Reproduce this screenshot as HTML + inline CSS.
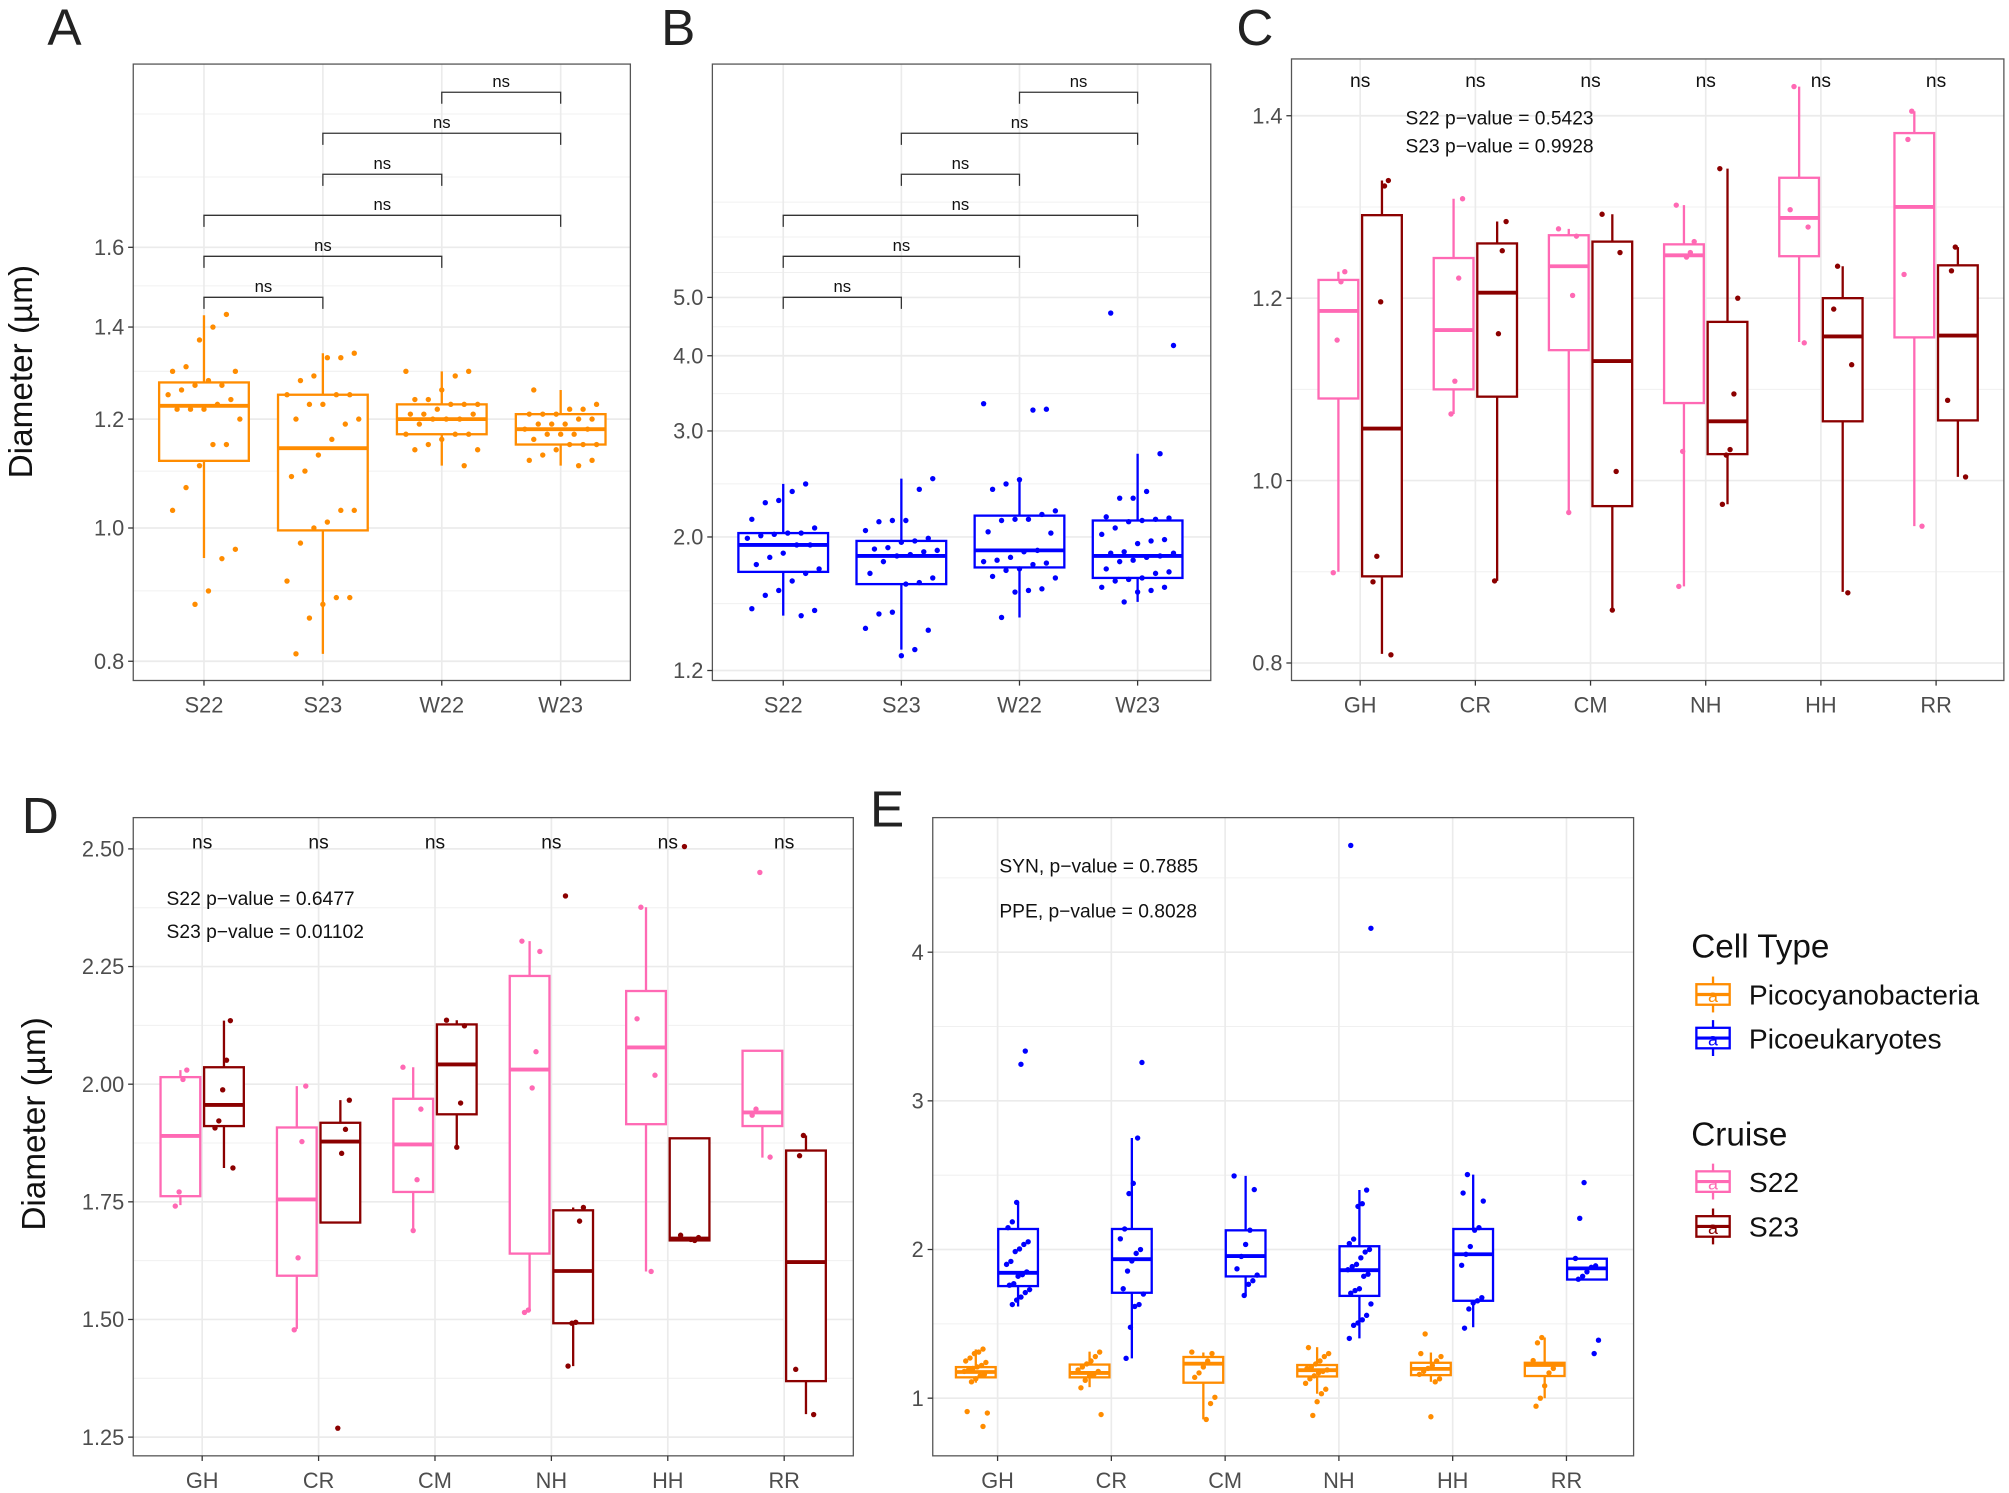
<!DOCTYPE html>
<html><head><meta charset="utf-8"><style>
html,body{margin:0;padding:0;background:#fff;}
svg{display:block;font-family:"Liberation Sans",Arial,sans-serif;}
</style></head><body>
<svg id="fig" xmlns="http://www.w3.org/2000/svg" width="2009" height="1493" viewBox="0 0 1568 1165" preserveAspectRatio="none"></svg>
<script>
// ===== Panel A data =====
const aCategories=['S22','S23','W22','W23'];
const aQ1=[1.119,0.996,1.17,1.15], aMed=[1.227,1.143,1.20,1.18], aQ3=[1.276,1.25,1.23,1.21], aLo=[0.951,0.81,1.11,1.11], aHi=[1.428,1.34,1.30,1.26];
const aPoints=[
[1.43,1.40,1.37,1.31,1.30,1.30,1.27,1.28,1.27,1.26,1.25,1.24,1.23,1.22,1.22,1.22,1.20,1.15,1.15,1.11,1.07,1.03,0.965,0.95,0.90,0.88],
[1.34,1.33,1.33,1.29,1.28,1.25,1.25,1.25,1.23,1.23,1.20,1.20,1.19,1.16,1.13,1.10,1.09,1.03,1.03,1.01,1.00,0.975,0.915,0.89,0.89,0.88,0.86,0.81],
[1.30,1.30,1.29,1.26,1.24,1.24,1.23,1.23,1.23,1.22,1.21,1.21,1.21,1.20,1.20,1.20,1.19,1.17,1.17,1.17,1.16,1.15,1.14,1.14,1.11],
[1.26,1.23,1.22,1.22,1.21,1.21,1.21,1.20,1.20,1.19,1.19,1.19,1.18,1.18,1.17,1.17,1.17,1.16,1.15,1.15,1.15,1.14,1.13,1.12,1.12,1.11]];
const aTicks=[0.8,1.0,1.2,1.4,1.6];
const aGrid=[0.9,1.1,1.3,1.5,1.8,2.0];
// ===== Panel B data =====
const bCategories=['S22','S23','W22','W23'];
const bQ1=[1.75,1.67,1.78,1.71], bMed=[1.94,1.86,1.90,1.86], bQ3=[2.03,1.97,2.17,2.13], bLo=[1.48,1.30,1.47,1.56], bHi=[2.45,2.50,2.49,2.75];
const bPoints=[
[2.45,2.38,2.30,2.28,2.14,2.07,2.03,2.03,2.02,2.01,1.99,1.94,1.94,1.88,1.85,1.80,1.77,1.74,1.69,1.63,1.60,1.52,1.51,1.48],
[2.50,2.40,2.13,2.13,2.12,2.05,1.99,1.97,1.96,1.92,1.91,1.90,1.89,1.87,1.86,1.82,1.74,1.71,1.68,1.67,1.50,1.49,1.41,1.40,1.30,1.27],
[3.33,3.26,3.25,2.49,2.45,2.40,2.21,2.18,2.14,2.14,2.13,2.04,2.03,1.90,1.89,1.85,1.83,1.82,1.81,1.80,1.77,1.76,1.72,1.71,1.64,1.63,1.62,1.47],
[4.71,4.16,2.75,2.38,2.32,2.32,2.16,2.15,2.14,2.13,2.12,2.07,2.02,1.98,1.97,1.95,1.89,1.88,1.88,1.86,1.85,1.83,1.82,1.77,1.75,1.74,1.71,1.70,1.69,1.65,1.65,1.63,1.62,1.56]];
const bTicks=[1.2,2.0,3.0,4.0,5.0];
const bTickLabels=['1.2','2.0','3.0','4.0','5.0'];
const bGrid=[1.55,2.45,3.46,4.47,5.5,6.3,7.2];
const pairs=[[0,1],[0,2],[0,3],[1,2],[1,3],[2,3]];
const pairLabels=['ns','ns','ns','ns','ns','ns'];
// ===== Panel C data (S22, S23 per site) =====
const sites=['GH','CR','CM','NH','HH','RR'];
const cS22Q1=[1.090,1.100,1.143,1.085,1.246,1.157], cS22Med=[1.186,1.165,1.235,1.247,1.288,1.300], cS22Q3=[1.220,1.244,1.269,1.259,1.332,1.381], cS22Lo=[0.90,1.073,0.965,0.884,1.152,0.95], cS22Hi=[1.229,1.309,1.276,1.302,1.432,1.405];
const cS23Q1=[0.895,1.092,0.972,1.029,1.065,1.066], cS23Med=[1.057,1.206,1.131,1.065,1.158,1.159], cS23Q3=[1.291,1.260,1.262,1.174,1.200,1.236], cS23Lo=[0.81,0.89,0.858,0.974,0.878,1.004], cS23Hi=[1.329,1.284,1.292,1.342,1.235,1.256];
const cS22Points=[[1.229,1.218,1.154,0.899],[1.309,1.222,1.109,1.073],[1.276,1.268,1.203,0.965],[1.302,1.262,1.25,1.245,1.032,0.884],[1.432,1.297,1.278,1.151],[1.405,1.374,1.226,0.95]];
const cS23Points=[[1.329,1.323,1.196,0.917,0.889,0.809],[1.284,1.252,1.161,0.890],[1.292,1.25,1.01,0.858],[1.342,1.20,1.095,1.034,1.028,0.974],[1.235,1.188,1.127,0.877],[1.256,1.23,1.088,1.004]];
const cTicks=[0.8,1.0,1.2,1.4];
// ===== Panel D data =====
const dS22Q1=[1.762,1.593,1.771,1.64,1.915,1.911], dS22Med=[1.89,1.755,1.872,2.031,2.078,1.94], dS22Q3=[2.015,1.908,1.969,2.23,2.198,2.071], dS22Lo=[1.743,1.48,1.689,1.518,1.602,1.844], dS22Hi=[2.03,1.996,2.036,2.304,2.376,2.071];
const dS23Q1=[1.911,1.706,1.936,1.492,1.668,1.369], dS23Med=[1.956,1.878,2.042,1.603,1.672,1.622], dS23Q3=[2.036,1.918,2.127,1.732,1.885,1.859], dS23Lo=[1.822,1.706,1.866,1.401,1.668,1.299], dS23Hi=[2.135,1.966,2.136,1.738,1.885,1.891];
const dS22Points=[[2.03,2.01,1.771,1.741],[1.996,1.878,1.631,1.478],[2.036,1.947,1.797,1.689],[2.304,2.282,2.069,1.992,1.52,1.515],[2.376,2.139,2.019,1.602],[2.45,1.947,1.934,1.845]];
const dS23Points=[[2.135,2.051,1.988,1.922,1.907,1.822],[1.966,1.904,1.853,1.269],[2.136,2.124,1.96,1.866],[2.40,1.738,1.709,1.494,1.492,1.401],[2.505,1.679,1.674,1.668,1.67],[1.891,1.848,1.394,1.298]];
const dTicks=[1.25,1.50,1.75,2.00,2.25,2.50];
const dTickLabels=['1.25','1.50','1.75','2.00','2.25','2.50'];
// ===== Panel E data =====
const eSynQ1=[1.14,1.14,1.104,1.146,1.155,1.149], eSynMed=[1.176,1.17,1.232,1.188,1.197,1.223], eSynQ3=[1.209,1.226,1.277,1.223,1.238,1.238], eSynLo=[1.104,1.074,0.857,1.03,1.11,1.0], eSynHi=[1.328,1.313,1.307,1.343,1.307,1.408];
const ePpeQ1=[1.754,1.709,1.819,1.688,1.655,1.798], ePpeMed=[1.843,1.935,1.956,1.861,1.968,1.873], ePpeQ3=[2.138,2.138,2.129,2.022,2.138,1.938], ePpeLo=[1.617,1.268,1.691,1.402,1.477,1.798], ePpeHi=[2.317,2.75,2.495,2.40,2.504,1.938];
const eSynPoints=[
[1.33,1.31,1.30,1.27,1.25,1.24,1.22,1.21,1.20,1.19,1.18,1.16,1.15,1.13,1.11,0.91,0.90,0.81],
[1.31,1.28,1.25,1.23,1.21,1.19,1.18,1.16,1.15,1.12,1.07,0.89],
[1.31,1.30,1.25,1.21,1.17,1.14,1.006,0.964,0.857],
[1.34,1.30,1.28,1.25,1.23,1.21,1.20,1.19,1.18,1.17,1.15,1.13,1.10,1.06,1.03,0.976,0.884],
[1.432,1.30,1.28,1.25,1.22,1.20,1.18,1.16,1.13,1.11,0.875],
[1.408,1.372,1.253,1.20,1.17,1.083,1.0,0.946]];
const ePpePoints=[
[3.335,3.246,2.317,2.186,2.147,2.052,2.034,2.004,1.986,1.92,1.90,1.849,1.831,1.82,1.77,1.76,1.73,1.71,1.68,1.66,1.63],
[3.258,2.75,2.445,2.376,2.138,2.072,2.0,1.974,1.923,1.855,1.736,1.70,1.63,1.617,1.477,1.268],
[2.495,2.403,2.13,2.034,1.953,1.87,1.828,1.79,1.766,1.691],
[4.718,4.161,2.40,2.308,2.29,2.07,2.04,2.0,1.983,1.944,1.90,1.885,1.864,1.834,1.82,1.736,1.724,1.706,1.634,1.557,1.527,1.506,1.49,1.402],
[2.504,2.38,2.326,2.147,2.13,2.02,1.968,1.894,1.676,1.655,1.64,1.60,1.471],
[2.45,2.21,1.94,1.89,1.88,1.85,1.82,1.80,1.39,1.30]];
const eTicks=[1,2,3,4];

// ===== helpers =====
const NS='http://www.w3.org/2000/svg';
const svg=document.getElementById('fig');
function mk(tag,parent){const e=document.createElementNS(NS,tag);parent.appendChild(e);return e;}
function at(e,o){for(const k in o)e.setAttribute(k,o[k]);return e;}
function jit(i){return (((i*7919+13)%17)/16-0.5);}
function txt(parent,x,y,s,size,fill,anchor,name){
  const t=mk('text',parent);at(t,{x:x,y:y,'font-size':size,fill:fill,'text-anchor':anchor||'start'});t.textContent=s;
  
  
  return t;}

function panel(p){
  const g=mk('g',svg);
  
  
  // grid
  (p.minor||[]).forEach(v=>{const y=p.ys(v);if(y<p.y0||y>p.y1)return;const l=mk('line',g);at(l,{x1:p.x0,x2:p.x1,y1:y,y2:y,stroke:'#f0f0f0','stroke-width':0.8});
    
    });
  p.ticks.forEach(v=>{const y=p.ys(v);const l=mk('line',g);at(l,{x1:p.x0,x2:p.x1,y1:y,y2:y,stroke:'#ebebeb','stroke-width':1.3});
    
    });
  p.cats.forEach((c,i)=>{const x=p.xs(i);const l=mk('line',g);at(l,{x1:x,x2:x,y1:p.y0,y2:p.y1,stroke:'#ebebeb','stroke-width':1.3});
    
    });
  // frame
  const fr=mk('rect',g);at(fr,{x:p.x0,y:p.y0,width:p.x1-p.x0,height:p.y1-p.y0,fill:'none',stroke:'#555','stroke-width':1});
  
  
  // ticks
  p.ticks.forEach((v,i)=>{const y=p.ys(v);const l=mk('line',g);at(l,{x1:p.x0-4,x2:p.x0,y1:y,y2:y,stroke:'#333','stroke-width':1});
    
    
    txt(g,p.x0-7,y+6,p.tickLabels?p.tickLabels[i]:String(v.toFixed(1)),17,'#4d4d4d','end','y-tick-label');});
  p.cats.forEach((c,i)=>{const x=p.xs(i);const l=mk('line',g);at(l,{x1:x,x2:x,y1:p.y1,y2:p.y1+4,stroke:'#333','stroke-width':1});
    
    
    txt(g,x,p.y1+25,c,17,'#4d4d4d','middle','x-tick-label');});
  return g;}

function boxes(g,p,off,w,col,q1,med,q3,lo,hi,pts,jw,name){
  p.cats.forEach((c,i)=>{
    const x=p.xs(i)+off;
    const wl=mk('line',g);at(wl,{x1:x,x2:x,y1:p.ys(hi[i]),y2:p.ys(lo[i]),stroke:col,'stroke-width':1.8});
    
    
    const r=mk('rect',g);at(r,{x:x-w/2,y:p.ys(q3[i]),width:w,height:p.ys(q1[i])-p.ys(q3[i]),fill:'#fff',stroke:col,'stroke-width':1.8});
    
    
    const m=mk('line',g);at(m,{x1:x-w/2,x2:x+w/2,y1:p.ys(med[i]),y2:p.ys(med[i]),stroke:col,'stroke-width':3});
    
    
  });
  p.cats.forEach((c,i)=>{
    pts[i].forEach((v,k)=>{const ci=mk('circle',g);at(ci,{cx:p.xs(i)+off+jit(k+i*5)*jw,cy:p.ys(v),r:2.1,fill:col});
      
      });
  });}

// ===== Panel A =====
const PA={name:'panel-a',x0:104,x1:492,y0:50,y1:531,ys:v=>412-466*Math.log(v),xs:i=>159.2+i*92.8,cats:aCategories,ticks:aTicks,minor:aGrid,tickLabels:aTicks.map(v=>v.toFixed(1))};
const gA=panel(PA);
boxes(gA,PA,0,70,'#ff8c00',aQ1,aMed,aQ3,aLo,aHi,aPoints,56,'syn');
// ===== Panel B =====
const PB={name:'panel-b',x0:556,x1:945,y0:50,y1:531,ys:v=>419-204*Math.log(v/2),xs:i=>611.3+i*92.2,cats:bCategories,ticks:bTicks,minor:bGrid,tickLabels:bTickLabels};
const gB=panel(PB);
boxes(gB,PB,0,70,'#0000ff',bQ1,bMed,bQ3,bLo,bHi,bPoints,56,'ppe');
// brackets
[[gA,PA],[gB,PB]].forEach(([g,p])=>{
  pairs.forEach((pr,k)=>{const y=232-k*32;const x1=p.xs(pr[0]),x2=p.xs(pr[1]);
    const pl=mk('polyline',g);at(pl,{points:`${x1},${y+9} ${x1},${y} ${x2},${y} ${x2},${y+9}`,fill:'none',stroke:'#333','stroke-width':1});
    
    
    txt(g,(x1+x2)/2,y-4,pairLabels[k],13,'#111','middle','bracket-label');});
});
// ===== Panel C =====
const PC={name:'panel-c',x0:1008,x1:1564,y0:46,y1:531,ys:v=>375-(v-1)*711.7,xs:i=>1061.6+i*89.9,cats:sites,ticks:cTicks,minor:[0.9,1.1,1.3],tickLabels:cTicks.map(v=>v.toFixed(1))};
const gC=panel(PC);
boxes(gC,PC,-17,31,'#ff69b4',cS22Q1,cS22Med,cS22Q3,cS22Lo,cS22Hi,cS22Points,16,'s22');
boxes(gC,PC,17,31,'#8b0000',cS23Q1,cS23Med,cS23Q3,cS23Lo,cS23Hi,cS23Points,16,'s23');
sites.forEach((s,i)=>txt(gC,PC.xs(i),68,'ns',15,'#111','middle','ns-label'));
txt(gC,1097,97,'S22 p\u2212value =  0.5423',15,'#111','start','p-value-s22');
txt(gC,1097,119,'S23 p\u2212value =  0.9928',15,'#111','start','p-value-s23');
// ===== Panel D =====
const PD={name:'panel-d',x0:104,x1:666,y0:638,y1:1136,ys:v=>846-(v-2)*367.2,xs:i=>157.8+i*90.85,cats:sites,ticks:dTicks,minor:[1.375,1.625,1.875,2.125,2.375],tickLabels:dTickLabels};
const gD=panel(PD);
boxes(gD,PD,-17,31,'#ff69b4',dS22Q1,dS22Med,dS22Q3,dS22Lo,dS22Hi,dS22Points,16,'s22');
boxes(gD,PD,17,31,'#8b0000',dS23Q1,dS23Med,dS23Q3,dS23Lo,dS23Hi,dS23Points,16,'s23');
sites.forEach((s,i)=>txt(gD,PD.xs(i),662,'ns',15,'#111','middle','ns-label'));
txt(gD,130,706,'S22 p\u2212value =  0.6477',15,'#111','start','p-value-s22');
txt(gD,130,732,'S23 p\u2212value = 0.01102',15,'#111','start','p-value-s23');
// ===== Panel E =====
const PE={name:'panel-e',x0:728,x1:1275,y0:638,y1:1136,ys:v=>1091-(v-1)*116,xs:i=>778.6+i*88.8,cats:sites,ticks:eTicks,minor:[1.5,2.5,3.5,4.5],tickLabels:eTicks.map(String)};
const gE=panel(PE);
boxes(gE,PE,-17,31,'#ff8c00',eSynQ1,eSynMed,eSynQ3,eSynLo,eSynHi,eSynPoints,18,'syn');
boxes(gE,PE,16,31,'#0000ff',ePpeQ1,ePpeMed,ePpeQ3,ePpeLo,ePpeHi,ePpePoints,18,'ppe');
txt(gE,780,681,'SYN, p\u2212value = 0.7885',15,'#111','start','p-value-syn');
txt(gE,780,716,'PPE, p\u2212value = 0.8028',15,'#111','start','p-value-ppe');

// panel letters & axis titles
[['A',37,35],['B',516,35],['C',965,35],['D',17,650],['E',679,645]].forEach(([s,x,y])=>txt(svg,x,y,s,40,'#222','start','panel-letter-'+s.toLowerCase()));
const t1=txt(svg,0,0,'Diameter (\u00b5m)',26,'#111','middle','y-axis-title-a');t1.setAttribute('transform','translate(25,290) rotate(-90)');
const t2=txt(svg,0,0,'Diameter (\u00b5m)',26,'#111','middle','y-axis-title-d');t2.setAttribute('transform','translate(35,877) rotate(-90)');

// legend
const lg=mk('g',svg);


txt(lg,1320,747,'Cell Type',26,'#111','start','legend-title-cell-type');
txt(lg,1320,894,'Cruise',26,'#111','start','legend-title-cruise');
[['Picocyanobacteria','#ff8c00',776],['Picoeukaryotes','#0000ff',810],['S22','#ff69b4',922],['S23','#8b0000',957]].forEach(([s,c,y])=>{
  const k=mk('g',lg);
  
  
  at(mk('line',k),{x1:1337,x2:1337,y1:y-14,y2:y+14,stroke:c,'stroke-width':1.8});
  at(mk('rect',k),{x:1324,y:y-8,width:26,height:16,fill:'#fff',stroke:c,'stroke-width':1.8});
  at(mk('line',k),{x1:1324,x2:1350,y1:y,y2:y,stroke:c,'stroke-width':2.5});
  const a=mk('text',k);at(a,{x:1337,y:y+6,'font-size':14,fill:c,'text-anchor':'middle'});a.textContent='a';
  txt(lg,1365,y+8,s,22,'#111','start','legend-label');
});
</script>
</body></html>
